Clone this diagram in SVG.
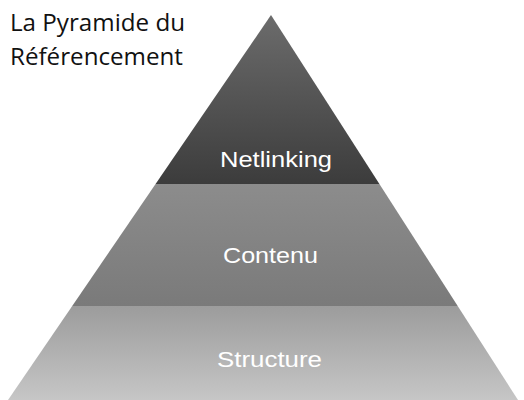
<svg xmlns="http://www.w3.org/2000/svg" width="524" height="400" viewBox="0 0 524 400">
<defs>
<linearGradient id="g1" x1="0" y1="0" x2="0" y2="1">
<stop offset="0" stop-color="#707070"/>
<stop offset="1" stop-color="#3c3c3c"/>
</linearGradient>
<linearGradient id="g2" x1="0" y1="0" x2="0" y2="1">
<stop offset="0" stop-color="#8c8c8c"/>
<stop offset="1" stop-color="#7a7a7a"/>
</linearGradient>
<linearGradient id="g3" x1="0" y1="0" x2="0" y2="1">
<stop offset="0" stop-color="#9c9c9c"/>
<stop offset="1" stop-color="#c6c6c6"/>
</linearGradient>
<clipPath id="pyr"><polygon points="271,15 518,400 8,400"/></clipPath>
<style>
.lbl{font-family:"Liberation Sans",Arial,sans-serif;font-size:22px;fill:#ffffff}
.ttl{font-family:"Open Sans","Liberation Sans",sans-serif;font-size:23px;fill:#111111}
</style>
</defs>
<rect width="524" height="400" fill="#ffffff"/>
<g id="title">
<text class="ttl" x="10" y="31" textLength="175" lengthAdjust="spacingAndGlyphs">La Pyramide du</text>
<text class="ttl" x="10" y="65" textLength="173" lengthAdjust="spacingAndGlyphs">Référencement</text>
</g>
<g clip-path="url(#pyr)">
<g id="netlinking">
<rect x="0" y="0" width="524" height="184" fill="url(#g1)"/>
<text class="lbl" x="220" y="167" textLength="112" lengthAdjust="spacingAndGlyphs">Netlinking</text>
</g>
<g id="contenu">
<rect x="0" y="184" width="524" height="122" fill="url(#g2)"/>
<text class="lbl" x="223" y="263" textLength="95" lengthAdjust="spacingAndGlyphs">Contenu</text>
</g>
<g id="structure">
<rect x="0" y="306" width="524" height="94" fill="url(#g3)"/>
<text class="lbl" x="217" y="367" textLength="105" lengthAdjust="spacingAndGlyphs">Structure</text>
</g>
</g>
</svg>
